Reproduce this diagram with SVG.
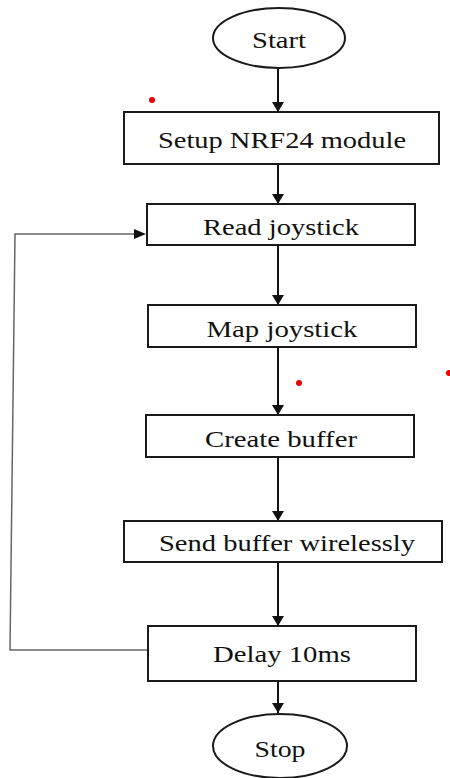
<svg xmlns="http://www.w3.org/2000/svg" width="450" height="778" viewBox="0 0 450 778">
<style>
.box{fill:#fff;stroke:#1a1a1a;stroke-width:2}
.t{font-family:"Liberation Serif","Times New Roman",serif;font-size:23px;fill:#111;text-anchor:middle}
.c{fill:none;stroke:#111;stroke-width:2}
.loop{fill:none;stroke:#666;stroke-width:1.5}
</style>
<defs>
<marker id="ah" markerWidth="10" markerHeight="12" refX="10" refY="6" orient="auto" markerUnits="userSpaceOnUse">
<path d="M0,0 L10,6 L0,12 Z" fill="#111"/>
</marker>
</defs>
<g id="connectors">
<line class="c" x1="278" y1="68" x2="278" y2="112" marker-end="url(#ah)"/>
<line class="c" x1="278" y1="164" x2="278" y2="204" marker-end="url(#ah)"/>
<line class="c" x1="278" y1="245" x2="278" y2="305" marker-end="url(#ah)"/>
<line class="c" x1="278" y1="347" x2="278" y2="415" marker-end="url(#ah)"/>
<line class="c" x1="278" y1="457" x2="278" y2="521" marker-end="url(#ah)"/>
<line class="c" x1="278" y1="562" x2="278" y2="626" marker-end="url(#ah)"/>
<line class="c" x1="278" y1="681" x2="278" y2="713" marker-end="url(#ah)"/>
<path class="loop" d="M148,650 L10,650 L15,234 L134,234"/>
<path d="M134,229 L146,234 L134,239 Z" fill="#111"/>
</g>
<g id="start"><ellipse class="box" cx="279" cy="38" rx="66" ry="30"/><text class="t" x="279" y="48" textLength="54" lengthAdjust="spacingAndGlyphs">Start</text></g>
<g id="setup"><rect class="box" x="124" y="112" width="315" height="52"/><text class="t" x="282" y="148" textLength="248" lengthAdjust="spacingAndGlyphs">Setup NRF24 module</text></g>
<g id="read"><rect class="box" x="147" y="204" width="268" height="41"/><text class="t" x="281" y="235" textLength="156" lengthAdjust="spacingAndGlyphs">Read joystick</text></g>
<g id="map"><rect class="box" x="148" y="305" width="268" height="42"/><text class="t" x="282" y="337" textLength="151" lengthAdjust="spacingAndGlyphs">Map joystick</text></g>
<g id="create"><rect class="box" x="146" y="415" width="268" height="42"/><text class="t" x="281" y="447" textLength="152" lengthAdjust="spacingAndGlyphs">Create buffer</text></g>
<g id="send"><rect class="box" x="124" y="521" width="318" height="41"/><text class="t" x="287" y="551" textLength="256" lengthAdjust="spacingAndGlyphs">Send buffer wirelessly</text></g>
<g id="delay"><rect class="box" x="148" y="626" width="268" height="55"/><text class="t" x="282" y="662" textLength="138" lengthAdjust="spacingAndGlyphs">Delay 10ms</text></g>
<g id="stop"><ellipse class="box" cx="280" cy="746" rx="67" ry="32"/><text class="t" x="280" y="757" textLength="51" lengthAdjust="spacingAndGlyphs">Stop</text></g>
<g id="dots" fill="#e00">
<circle cx="152" cy="100" r="3"/>
<circle cx="299" cy="383" r="3"/>
<circle cx="449" cy="373" r="3"/>
</g>
</svg>
